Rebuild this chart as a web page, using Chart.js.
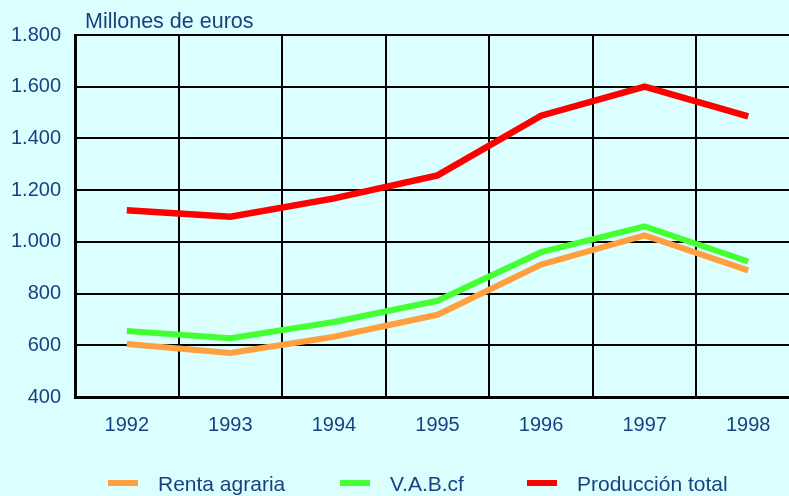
<!DOCTYPE html>
<html>
<head>
<meta charset="utf-8">
<script src="https://cdn.jsdelivr.net/npm/chart.js@4/dist/chart.umd.min.js"></script>
<style>
  html, body { margin: 0; padding: 0; overflow: hidden; background: #dbffff; }
  #wrap { width: 800px; height: 496px; position: relative; }
</style>
</head>
<body>
<div id="wrap"><canvas id="chart"></canvas></div>
<script>
const years = ['1992', '1993', '1994', '1995', '1996', '1997', '1998'];
const rentaAgraria = [605, 570, 633, 718, 912, 1025, 890];
const vabCf = [655, 627, 690, 772, 960, 1060, 924];
const produccionTotal = [1122, 1097, 1168, 1257, 1488, 1600, 1485];
const unitLabel = 'Millones de euros';

const textColor = '#174280';
const fontFamily = '"Liberation Sans", Arial, sans-serif';

// miles con punto: 1800 -> 1.800
const fmt = (v) => String(v).replace(/\B(?=(\d{3})+(?!\d))/g, '.');

// leyenda y unidad dibujadas a mano para igualar el espaciado original
const extras = {
  id: 'extras',
  afterDraw(chart) {
    const ctx = chart.ctx;
    const area = chart.chartArea;
    ctx.save();
    ctx.font = '21.5px ' + fontFamily;
    ctx.fillStyle = textColor;
    ctx.textBaseline = 'alphabetic';
    ctx.textAlign = 'left';
    ctx.fillText(unitLabel, area.left + 10, 28);

    ctx.font = '21px ' + fontFamily;
    const starts = [108, 340, 527];
    chart.data.datasets.forEach((ds, i) => {
      const x = starts[i];
      ctx.fillStyle = ds.borderColor;
      ctx.fillRect(x, 480, 30, 6);
      ctx.fillStyle = textColor;
      ctx.fillText(ds.label, x + 50, 491);
    });
    ctx.restore();
  }
};

new Chart(document.getElementById('chart'), {
  type: 'line',
  data: {
    labels: years,
    datasets: [
      { label: 'Renta agraria', data: rentaAgraria, borderColor: '#ff9f40', borderWidth: 6 },
      { label: 'V.A.B.cf', data: vabCf, borderColor: '#44ff33', borderWidth: 6 },
      { label: 'Producción total', data: produccionTotal, borderColor: '#ff0000', borderWidth: 6.5 },
    ],
  },
  options: {
    responsive: true,
    maintainAspectRatio: false,
    animation: false,
    layout: { padding: { top: 35, right: 0, bottom: 0, left: 0 } },
    elements: { point: { radius: 0 }, line: { tension: 0, borderJoinStyle: 'miter' } },
    plugins: { legend: { display: false }, tooltip: { enabled: false } },
    scales: {
      x: {
        offset: true,
        grid: { offset: true, color: '#000', lineWidth: 2, drawTicks: false },
        border: { color: '#000', width: 3 },
        ticks: { color: textColor, font: { family: fontFamily, size: 20 }, padding: 16, maxRotation: 0 },
        afterFit(scale) { scale.height = 99; },
      },
      y: {
        min: 400,
        max: 1800,
        grid: { color: '#000', lineWidth: 2, drawTicks: false },
        border: { color: '#000', width: 3 },
        ticks: {
          stepSize: 200,
          color: textColor,
          font: { family: fontFamily, size: 20 },
          padding: 14,
          callback: (v) => fmt(v),
        },
        afterFit(scale) { scale.width = 75; },
      },
    },
  },
  plugins: [extras],
});
</script>
</body>
</html>
